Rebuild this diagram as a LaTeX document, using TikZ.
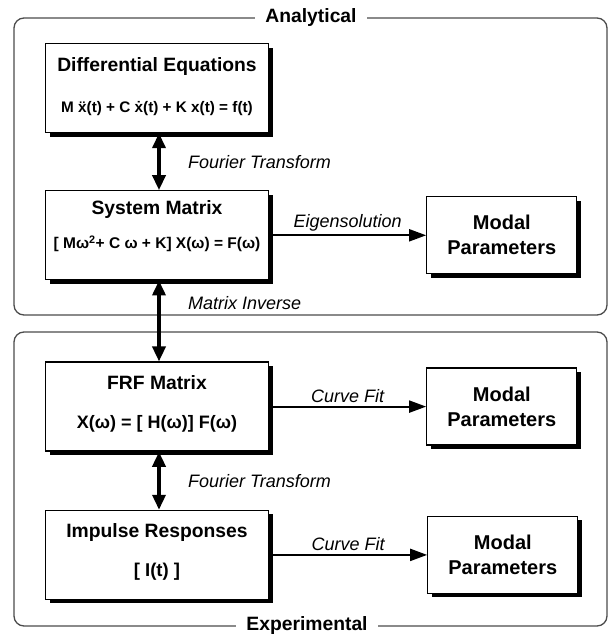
\documentclass[tikz,border=0pt]{standalone}
\usepackage{fontspec}
\setmainfont{Liberation Sans}
\usetikzlibrary{positioning, arrows.meta, shadows}

\newcommand{\ttlfont}{\fontsize{19.3}{22}\selectfont\bfseries}
\newcommand{\eqfont}[1]{\fontsize{#1}{19}\selectfont\bfseries}
\newcommand{\dropby}[1]{\rule[-#1]{0pt}{#1}}

\tikzset{
  box/.style={draw, line width=1.3pt, fill=white, align=center,
    minimum width=223pt, minimum height=89pt, inner sep=0pt,
    drop shadow={shadow xshift=4pt, shadow yshift=-4pt, fill=black, opacity=1}},
  modalbox/.style={box, minimum width=150pt, minimum height=77pt,
    font=\fontsize{20}{25}\selectfont\bfseries},
  frame/.style={draw=black!70, line width=1.3pt, rounded corners=10pt},
  frametitle/.style={fill=white, inner xsep=10pt, inner ysep=2pt, font=\ttlfont},
  flow/.style={line width=2pt, -{Triangle[length=17pt,width=12pt]}},
  both/.style={line width=3.5pt,
    {Triangle[length=15pt,width=13pt]}-{Triangle[length=15pt,width=13pt]}},
  lbl/.style={font=\fontsize{18}{20}\selectfont\itshape},
}

\begin{document}
\begin{tikzpicture}[x=1pt, y=-1pt]
  \useasboundingbox (0,0) rectangle (610,635);

  % the two frames
  \draw[frame] (14,18) rectangle (607,315);
  \node[frametitle] (analytical) at (311,18) {Analytical};
  \draw[frame] (14,332) rectangle (607,626);
  \node[frametitle] (experimental) at (307,626) {Experimental};

  % left column
  \node[box] (diffeq) at (157,88)
    {\ttlfont Differential Equations\\[25pt]\eqfont{15.3}M \"x(t) + C \.x(t) + K x(t) = f(t)\dropby{6.5pt}};
  \node[box, below=57pt of diffeq] (system)
    {\ttlfont System Matrix\\[17pt]\eqfont{15.5}[ Mω\textsuperscript{2}+ C ω + K] X(ω) = F(ω)\dropby{21.5pt}};
  \node[box, below=81pt of system] (frf)
    {\ttlfont FRF Matrix\\[25pt]\eqfont{18}X(ω) = [ H(ω)] F(ω)\dropby{9pt}};
  \node[box, below=58pt of frf] (impulse)
    {\ttlfont Impulse Responses\\[21pt]\eqfont{18.5}[ I(t) ]\dropby{10pt}};

  % right column
  \node[modalbox, right=157pt of system] (modalsys) {Modal\\Parameters};
  \node[modalbox, right=157pt of frf] (modalfrf) {Modal\\Parameters};
  \node[modalbox, right=158pt of impulse] (modalimp) {Modal\\Parameters};

  % connectors
  \draw[both] ([xshift=2pt]diffeq.south) -- node[lbl, right=24pt] (ftup) {Fourier Transform} ([xshift=2pt]system.north);
  \draw[both] ([xshift=2pt]system.south) -- node[lbl, right=24pt, pos=0.28] (matinv) {Matrix Inverse} ([xshift=2pt]frf.north);
  \draw[both] ([xshift=2pt]frf.south) -- node[lbl, right=24pt] (ftdown) {Fourier Transform} ([xshift=2pt]impulse.north);

  \draw[flow] (system.east) -- node[lbl, above] (eigen) {Eigensolution} (system.east -| modalsys.west);
  \draw[flow] (frf.east) -- node[lbl, above] (fitfrf) {Curve Fit} (frf.east -| modalfrf.west);
  \draw[flow] (impulse.east) -- node[lbl, above] (fitimp) {Curve Fit} (impulse.east -| modalimp.west);
\end{tikzpicture}
\end{document}
